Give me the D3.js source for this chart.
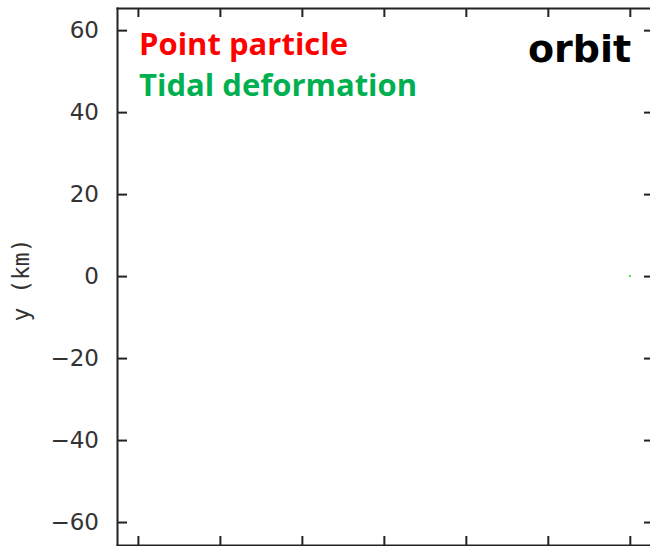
<!DOCTYPE html>
<html>
<head>
<meta charset="utf-8">
<script src="https://cdn.jsdelivr.net/npm/d3@7"></script>
<style>
  body { margin: 0; background: #fff; }
  .axis path, .axis line { stroke: #222; stroke-width: 2; }
  .axis text { font-family: 'DejaVu Sans', sans-serif; font-size: 23px; fill: #333; }
</style>
</head>
<body>
<div id="chart"></div>
<script>
let xTicks = [-60, -40, -20, 0, 20, 40, 60]
let yTicks = [-60, -40, -20, 0, 20, 40, 60]
let tidalX = [60]
let tidalY = [0]
let legendNames = ['Point particle', 'Tidal deformation']
let legendColors = ['#ff0000', '#00b050']

let width = 650
let height = 546

let svg = d3.select('#chart')
  .append('svg')
  .attr('width', width)
  .attr('height', height)

let xScale = d3.scaleLinear().domain([-65.1, 65.9]).range([117, 654])
let yScale = d3.scaleLinear().domain([-65.6, 65.4]).range([545, 8])

// frame with inward ticks on all four sides
svg.append('g')
  .attr('class', 'axis')
  .attr('transform', 'translate(117,0)')
  .call(d3.axisLeft(yScale).tickValues(yTicks).tickSizeInner(-10).tickSizeOuter(0).tickPadding(18)
    .tickFormat(d => d < 0 ? '\u2212' + Math.abs(d) : d))

svg.append('g')
  .attr('class', 'axis')
  .attr('transform', 'translate(654,0)')
  .call(d3.axisRight(yScale).tickValues(yTicks).tickSizeInner(-10).tickSizeOuter(0).tickFormat(''))

svg.append('g')
  .attr('class', 'axis')
  .attr('transform', 'translate(0,8)')
  .call(d3.axisTop(xScale).tickValues(xTicks).tickSizeInner(-9).tickSizeOuter(0).tickFormat(''))

svg.append('g')
  .attr('class', 'axis')
  .attr('transform', 'translate(0,545)')
  .call(d3.axisBottom(xScale).tickValues(xTicks).tickSizeInner(-9).tickSizeOuter(0).tickFormat(''))

svg.selectAll('.axis .domain').attr('stroke-linecap', 'square')

// y label
svg.append('text')
  .attr('transform', 'translate(29,280) rotate(-90)')
  .attr('text-anchor', 'middle')
  .attr('font-family', 'DejaVu Sans Mono, monospace')
  .attr('font-size', 23)
  .attr('fill', '#333')
  .text('y (km)')

// tidal deformation points
svg.selectAll('.tidal')
  .data(tidalX)
  .enter()
  .append('rect')
  .attr('x', (d, i) => xScale(d) - 1)
  .attr('y', (d, i) => yScale(tidalY[i]) - 1)
  .attr('width', 2)
  .attr('height', 2)
  .attr('fill', '#44dd44')

// legend text
svg.selectAll('.legend')
  .data(legendNames)
  .enter()
  .append('text')
  .attr('x', 139)
  .attr('y', (d, i) => 55 + i * 41)
  .attr('font-family', 'Open Sans, sans-serif')
  .attr('font-weight', 'bold')
  .attr('font-size', 31)
  .attr('fill', (d, i) => legendColors[i])
  .text(d => d)

svg.append('text')
  .attr('x', 528)
  .attr('y', 62)
  .attr('font-family', 'DejaVu Sans, sans-serif')
  .attr('font-weight', 'bold')
  .attr('font-size', 38)
  .attr('fill', '#000')
  .text('orbit')
</script>
</body>
</html>
